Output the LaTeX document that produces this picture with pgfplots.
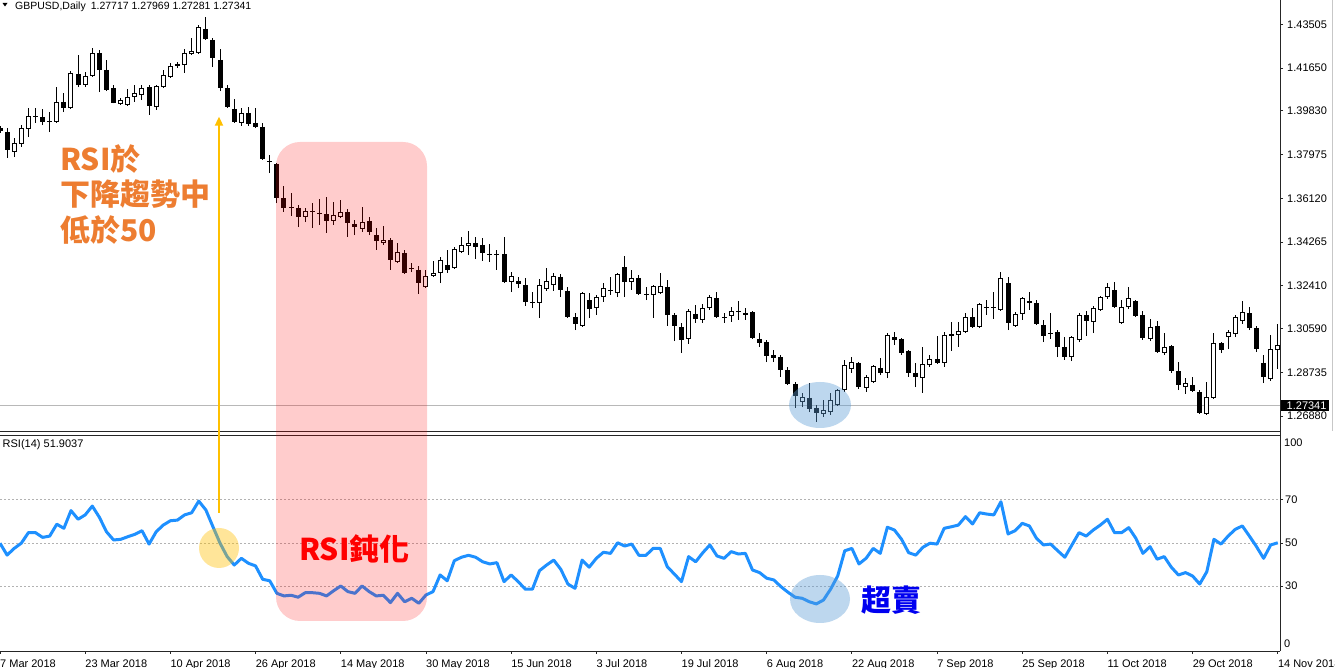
\documentclass[border=0pt]{standalone}
\usepackage{fontspec}
\setmainfont{Liberation Sans}
\newfontfamily\cjk{Noto Sans CJK TC}
\usepackage{pgfplots}
\pgfplotsset{compat=1.18}
\usepackage{pgfplotstable}
\usetikzlibrary{arrows.meta}
\definecolor{rsiblue}{RGB}{30,144,255}
\definecolor{annorange}{RGB}{237,125,49}
\definecolor{arrowgold}{RGB}{255,192,0}
\definecolor{ellblue}{RGB}{91,155,213}
\newcommand{\tf}{\fontsize{11}{13}\selectfont}

\pgfplotstableread{
i o h l c
0 1.3910 1.3919 1.3889 1.3898
1 1.3893 1.3910 1.3783 1.3817
2 1.3809 1.3868 1.3787 1.3847
3 1.3843 1.3923 1.3830 1.3910
4 1.3906 1.3995 1.3872 1.3961
5 1.3957 1.3995 1.3932 1.3961
6 1.3957 1.3991 1.3923 1.3936
7 1.3940 1.3978 1.3893 1.3936
8 1.3936 1.4084 1.3932 1.4021
9 1.4021 1.4059 1.3978 1.3995
10 1.3995 1.4152 1.3991 1.4144
11 1.4140 1.4220 1.4084 1.4093
12 1.4093 1.4148 1.4084 1.4131
13 1.4131 1.4250 1.4127 1.4229
14 1.4229 1.4241 1.4063 1.4157
15 1.4157 1.4199 1.4067 1.4072
16 1.4080 1.4093 1.4015 1.4018
17 1.4012 1.4038 1.4008 1.4029
18 1.4008 1.4076 1.4004 1.4042
19 1.4042 1.4093 1.4021 1.4059
20 1.4050 1.4093 1.4029 1.4080
21 1.4084 1.4093 1.3966 1.4004
22 1.3999 1.4093 1.3987 1.4089
23 1.4084 1.4157 1.4080 1.4135
24 1.4127 1.4186 1.4123 1.4174
25 1.4182 1.4191 1.4165 1.4174
26 1.4178 1.4246 1.4144 1.4229
27 1.4224 1.4292 1.4220 1.4237
28 1.4229 1.4348 1.4224 1.4339
29 1.4331 1.4381 1.4284 1.4288
30 1.4284 1.4292 1.4169 1.4207
31 1.4199 1.4246 1.4067 1.4080
32 1.4080 1.4093 1.3997 1.4000
33 1.3991 1.4033 1.3932 1.3936
34 1.3932 1.3995 1.3919 1.3974
35 1.3974 1.3999 1.3919 1.3927
36 1.3932 1.3995 1.3910 1.3915
37 1.3915 1.3932 1.3775 1.3779
38 1.3770 1.3796 1.3719 1.3766
39 1.3758 1.3762 1.3592 1.3613
40 1.3613 1.3664 1.3554 1.3571
41 1.3575 1.3635 1.3537 1.3571
42 1.3571 1.3584 1.3490 1.3533
43 1.3533 1.3571 1.3511 1.3558
44 1.3554 1.3592 1.3486 1.3558
45 1.3550 1.3609 1.3499 1.3545
46 1.3545 1.3618 1.3465 1.3516
47 1.3516 1.3596 1.3499 1.3541
48 1.3533 1.3605 1.3528 1.3554
49 1.3554 1.3567 1.3448 1.3507
50 1.3503 1.3520 1.3456 1.3490
51 1.3482 1.3575 1.3469 1.3511
52 1.3516 1.3533 1.3456 1.3469
53 1.3456 1.3486 1.3393 1.3431
54 1.3422 1.3494 1.3414 1.3435
55 1.3435 1.3444 1.3308 1.3350
56 1.3342 1.3422 1.3337 1.3384
57 1.3380 1.3393 1.3291 1.3295
58 1.3316 1.3337 1.3299 1.3312
59 1.3308 1.3325 1.3206 1.3252
60 1.3236 1.3308 1.3231 1.3282
61 1.3282 1.3346 1.3278 1.3295
62 1.3295 1.3363 1.3252 1.3350
63 1.3329 1.3393 1.3295 1.3308
64 1.3316 1.3405 1.3312 1.3397
65 1.3384 1.3448 1.3380 1.3414
66 1.3410 1.3473 1.3371 1.3422
67 1.3422 1.3448 1.3354 1.3405
68 1.3414 1.3444 1.3346 1.3380
69 1.3376 1.3418 1.3342 1.3371
70 1.3376 1.3393 1.3308 1.3371
71 1.3376 1.3448 1.3252 1.3257
72 1.3257 1.3299 1.3214 1.3282
73 1.3261 1.3278 1.3231 1.3248
74 1.3244 1.3274 1.3155 1.3172
75 1.3172 1.3214 1.3146 1.3168
76 1.3168 1.3269 1.3104 1.3244
77 1.3227 1.3316 1.3219 1.3261
78 1.3244 1.3295 1.3219 1.3282
79 1.3278 1.3291 1.3193 1.3223
80 1.3219 1.3236 1.3104 1.3108
81 1.3108 1.3125 1.3053 1.3079
82 1.3070 1.3214 1.3066 1.3210
83 1.3180 1.3210 1.3104 1.3142
84 1.3146 1.3202 1.3117 1.3193
85 1.3193 1.3252 1.3172 1.3231
86 1.3219 1.3278 1.3202 1.3223
87 1.3210 1.3295 1.3193 1.3291
88 1.3320 1.3367 1.3193 1.3257
89 1.3257 1.3308 1.3223 1.3274
90 1.3274 1.3286 1.3202 1.3206
91 1.3206 1.3236 1.3180 1.3202
92 1.3202 1.3244 1.3104 1.3240
93 1.3210 1.3295 1.3206 1.3240
94 1.3236 1.3265 1.3070 1.3117
95 1.3117 1.3125 1.3006 1.3070
96 1.3066 1.3083 1.2956 1.3011
97 1.3015 1.3142 1.2994 1.3134
98 1.3121 1.3159 1.3083 1.3100
99 1.3096 1.3163 1.3083 1.3146
100 1.3146 1.3202 1.3138 1.3193
101 1.3189 1.3214 1.3104 1.3108
102 1.3108 1.3125 1.3083 1.3104
103 1.3112 1.3150 1.3087 1.3134
104 1.3129 1.3176 1.3096 1.3134
105 1.3117 1.3146 1.3096 1.3125
106 1.3129 1.3134 1.3015 1.3019
107 1.3015 1.3040 1.2981 1.2998
108 1.3002 1.3011 1.2917 1.2943
109 1.2947 1.2968 1.2917 1.2934
110 1.2938 1.2947 1.2854 1.2883
111 1.2883 1.2896 1.2820 1.2824
112 1.2824 1.2832 1.2722 1.2773
113 1.2748 1.2786 1.2726 1.2769
114 1.2765 1.2828 1.2705 1.2718
115 1.2722 1.2735 1.2663 1.2701
116 1.2697 1.2756 1.2684 1.2714
117 1.2705 1.2786 1.2693 1.2756
118 1.2735 1.2803 1.2731 1.2799
119 1.2798 1.2926 1.2790 1.2905
120 1.2888 1.2938 1.2871 1.2917
121 1.2913 1.2917 1.2803 1.2811
122 1.2807 1.2862 1.2790 1.2854
123 1.2832 1.2905 1.2828 1.2900
124 1.2892 1.2934 1.2862 1.2871
125 1.2871 1.3040 1.2849 1.3032
126 1.3023 1.3045 1.2989 1.3011
127 1.3015 1.3019 1.2947 1.2955
128 1.2964 1.2968 1.2854 1.2871
129 1.2871 1.2913 1.2811 1.2854
130 1.2849 1.2981 1.2786 1.2909
131 1.2905 1.2947 1.2896 1.2930
132 1.2930 1.3028 1.2909 1.2913
133 1.2913 1.3045 1.2896 1.3032
134 1.3036 1.3087 1.2964 1.3028
135 1.3032 1.3087 1.2981 1.3049
136 1.3045 1.3125 1.3040 1.3108
137 1.3108 1.3146 1.3062 1.3066
138 1.3066 1.3168 1.3062 1.3163
139 1.3146 1.3180 1.3117 1.3150
140 1.3150 1.3214 1.3100 1.3146
141 1.3138 1.3299 1.3134 1.3274
142 1.3252 1.3278 1.3053 1.3083
143 1.3070 1.3129 1.3066 1.3121
144 1.3121 1.3193 1.3096 1.3189
145 1.3176 1.3214 1.3138 1.3168
146 1.3168 1.3180 1.3075 1.3079
147 1.3075 1.3096 1.3002 1.3028
148 1.3040 1.3125 1.3015 1.3036
149 1.3045 1.3053 1.2938 1.2981
150 1.2981 1.3023 1.2926 1.2938
151 1.2938 1.3028 1.2921 1.3023
152 1.3011 1.3125 1.3002 1.3117
153 1.3117 1.3134 1.3028 1.3091
154 1.3087 1.3155 1.3040 1.3146
155 1.3138 1.3197 1.3134 1.3193
156 1.3193 1.3252 1.3185 1.3236
157 1.3223 1.3257 1.3146 1.3150
158 1.3083 1.3180 1.3079 1.3150
159 1.3150 1.3236 1.3142 1.3189
160 1.3176 1.3180 1.3108 1.3112
161 1.3117 1.3134 1.3011 1.3019
162 1.3015 1.3100 1.3006 1.3066
163 1.3070 1.3091 1.2956 1.2960
164 1.2956 1.3040 1.2947 1.2981
165 1.2985 1.2989 1.2871 1.2879
166 1.2879 1.2917 1.2798 1.2820
167 1.2811 1.2849 1.2782 1.2828
168 1.2820 1.2854 1.2790 1.2794
169 1.2790 1.2798 1.2697 1.2701
170 1.2697 1.2832 1.2693 1.2769
171 1.2765 1.3040 1.2760 1.2998
172 1.2998 1.3002 1.2955 1.2968
173 1.3023 1.3053 1.2972 1.3045
174 1.3036 1.3117 1.3023 1.3108
175 1.3091 1.3176 1.3079 1.3129
176 1.3125 1.3150 1.3053 1.3062
177 1.3062 1.3070 1.2960 1.2972
178 1.2913 1.2947 1.2828 1.2854
179 1.2845 1.3032 1.2837 1.2972
180 1.2968 1.3079 1.2888 1.2989
}\candles

\pgfplotstableread{
i r
0 49.9
1 44.4
2 47.5
3 49.9
4 54.8
5 54.8
6 52.6
7 53.2
8 58.7
9 56.8
10 65.0
11 61.0
12 63.0
13 67.1
14 61.9
15 55.2
16 51.4
17 51.7
18 52.9
19 54.0
20 55.7
21 49.5
22 55.2
23 58.3
24 60.3
25 60.6
26 63.0
27 64.0
28 69.4
29 65.3
30 57.5
31 49.9
32 43.7
33 39.8
34 42.9
35 40.6
36 39.4
37 33.2
38 32.5
39 26.7
40 25.5
41 25.8
42 24.9
43 27.0
44 27.0
45 26.7
46 25.5
47 27.9
48 30.1
49 27.5
50 26.7
51 30.1
52 27.5
53 25.5
54 25.8
55 22.4
56 26.7
57 22.8
58 24.4
59 22.1
60 25.9
61 27.5
62 35.2
63 32.5
64 41.8
65 43.4
66 44.3
67 43.4
68 41.3
69 40.3
70 40.9
71 32.1
72 35.2
73 32.1
74 28.6
75 28.6
76 37.2
77 39.8
78 42.1
79 37.8
80 31.0
81 29.0
82 42.1
83 38.8
84 42.9
85 45.7
86 45.2
87 50.1
88 48.6
89 49.5
90 44.3
91 44.3
92 47.5
93 47.5
94 39.0
95 35.6
96 32.1
97 43.7
98 41.3
99 45.5
100 49.1
101 44.0
102 42.9
103 46.0
104 44.9
105 45.2
106 37.5
107 36.3
108 33.7
109 32.9
110 29.8
111 27.2
112 24.9
113 24.4
114 22.8
115 21.8
116 23.6
117 28.6
118 34.7
119 46.4
120 47.5
121 40.3
122 42.9
123 47.5
124 45.2
125 57.3
126 56.0
127 51.7
128 45.5
129 44.4
130 48.0
131 49.9
132 49.5
133 56.8
134 57.5
135 58.3
136 62.2
137 58.8
138 64.0
139 63.4
140 63.0
141 69.1
142 54.2
143 55.7
144 59.1
145 57.9
146 52.2
147 49.1
148 49.5
149 46.4
150 43.4
151 49.1
152 54.8
153 53.2
154 56.0
155 58.3
156 61.0
157 54.8
158 54.8
159 57.1
160 52.2
161 45.2
162 48.3
163 42.5
164 43.7
165 38.8
166 35.2
167 36.3
168 34.7
169 31.0
170 36.7
171 51.7
172 49.5
173 53.2
174 56.3
175 57.9
176 53.2
177 48.3
178 42.9
179 49.1
180 50.1
}\rsi

\begin{document}
\begin{tikzpicture}[x=1pt,y=1pt]
\useasboundingbox (0,0) rectangle (1335,668);
\fill[white] (0,0) rectangle (1335,668);

% ---------- price panel ----------
\begin{axis}[
  at={(0pt,237pt)}, anchor=south west, scale only axis,
  width=1280pt, height=431pt,
  xmin=0, xmax=180.31, ymin=1.26244, ymax=1.44536,
  axis x line=none, axis y line*=right,
  axis line style={black!85, line width=0.9pt},
  ytick={1.26880,1.28735,1.30590,1.32410,1.34265,1.36120,1.37975,1.39830,1.41650,1.43505},
  scaled y ticks=false,
  /pgf/number format/assume math mode=true,
  yticklabel style={font=\tf, anchor=west, inner sep=0pt, xshift=4pt,
    /pgf/number format/fixed, /pgf/number format/fixed zerofill, /pgf/number format/precision=5},
  tick align=outside, major tick length=3pt, tick style={black!85, line width=0.8pt},
  clip mode=individual,
]
\addplot[black!28, line width=1pt] coordinates {(0,1.27341) (180.31,1.27341)};
% wicks
\addplot[black, line width=1pt, quiver={u=0, v=\thisrow{h}-\thisrow{l}}] table[x=i, y=l] {\candles};
% bodies
\addplot[black, line width=5pt, line cap=butt, quiver={u=0, v=\thisrow{c}-\thisrow{o}}] table[x=i, y=o] {\candles};
% hollow interior of rising candles
\addplot[white, line width=3pt, line cap=butt, quiver={u=0, v={max(\thisrow{c}-\thisrow{o}-0.00085,0)}}] table[x=i, y expr=\thisrow{o}+0.000425] {\candles};
\end{axis}

% ---------- RSI panel ----------
\begin{axis}[
  at={(0pt,17pt)}, anchor=south west, scale only axis,
  width=1280pt, height=216pt,
  xmin=0, xmax=180.31, ymin=0, ymax=100,
  axis x line*=bottom, axis y line*=right,
  axis line style={black!85, line width=0.9pt},
  xtick={0,12,...,180},
  xticklabels={7 Mar 2018,23 Mar 2018,10 Apr 2018,26 Apr 2018,14 May 2018,30 May 2018,15 Jun 2018,3 Jul 2018,19 Jul 2018,6 Aug 2018,22 Aug 2018,7 Sep 2018,25 Sep 2018,11 Oct 2018,29 Oct 2018,14 Nov 2018},
  xticklabel style={font=\tf, anchor=north west, inner sep=0pt, yshift=-5.7pt},
  ytick={30,50,70},
  /pgf/number format/assume math mode=true,
  yticklabel style={font=\tf, anchor=west, inner sep=0pt, xshift=2pt},
  ymajorgrids, grid style={black!30, dash pattern=on 2pt off 2pt, line width=0.9pt},
  tick align=outside, major tick length=3pt, tick style={black!85, line width=0.8pt},
  clip mode=individual,
]
\addplot[rsiblue, line width=3pt, line join=round] table[x=i, y=r] {\rsi};
\end{axis}

% frames between panels
\draw[black!85, line width=0.9pt] (0,237) -- (1280,237);
\draw[black!85, line width=0.9pt] (0,233) -- (1280,233);
\draw[black!85, line width=0.9pt] (1280,233) -- (1280,237);
\draw[black!22, line width=0.8pt] (1332.5,237) -- (1332.5,668);

% header texts
\fill[black] (2.5,665) -- (7.5,665) -- (5,661.5) -- cycle;
\node[anchor=base west, inner sep=0pt, font=\fontsize{10.5}{12}\selectfont] at (15,658) {GBPUSD,Daily\hspace{5pt}1.27717 1.27969 1.27281 1.27341};
\node[anchor=base west, inner sep=0pt, font=\tf] at (2.5,220) {RSI(14) 51.9037};

% current price box
\fill[black] (1281,256.5) rectangle (1329,267.5);
\node[anchor=base west, inner sep=0pt, font=\tf, text=white] at (1286.5,258.3) {1.27341};

% RSI 100 / 0 labels
\node[anchor=base west, inner sep=0pt, font=\tf] at (1284,221.3) {100};
\node[anchor=base west, inner sep=0pt, font=\tf] at (1284,20.3) {0};

% overlays
\fill[red, opacity=0.2, rounded corners=24pt] (276,47) rectangle (427,526);
\fill[arrowgold, opacity=0.4] (219,120) circle (20);
\fill[ellblue, opacity=0.4] (820,263) ellipse (31 and 23);
\fill[ellblue, opacity=0.4] (820,69) ellipse (30 and 24);
\draw[arrowgold, line width=2pt, -{Triangle[width=8pt,length=9pt]}] (219,155) -- (219,551.3);

% annotations
\node[anchor=base west, inner sep=0pt, text=annorange, font=\cjk\bfseries\fontsize{30}{36}\selectfont] at (60,497) {RSI於};
\node[anchor=base west, inner sep=0pt, text=annorange, font=\cjk\bfseries\fontsize{30}{36}\selectfont] at (60,462) {下降趨勢中};
\node[anchor=base west, inner sep=0pt, text=annorange, font=\cjk\bfseries\fontsize{30}{36}\selectfont] at (60,426) {低於50};
\node[anchor=base west, inner sep=0pt, text=red, font=\cjk\bfseries\fontsize{30}{36}\selectfont] at (299,107) {RSI鈍化};
\node[anchor=base west, inner sep=0pt, text={rgb,255:red,0;green,0;blue,240}, font=\cjk\bfseries\fontsize{30}{36}\selectfont] at (861,56) {超賣};
\end{tikzpicture}
\end{document}
